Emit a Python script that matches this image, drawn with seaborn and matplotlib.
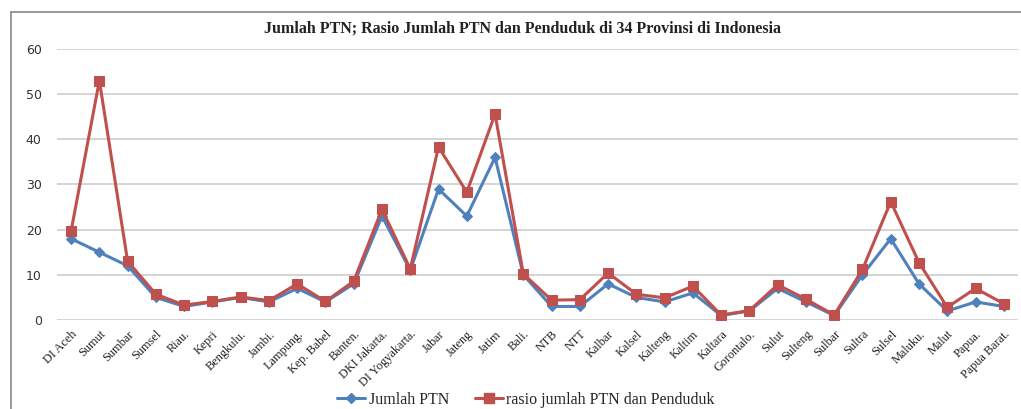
import pandas as pd
import matplotlib
matplotlib.use("Agg")
import matplotlib.pyplot as plt
import seaborn as sns
from matplotlib.lines import Line2D


provinsi = ["DI Aceh", "Sumut", "Sumbar", "Sumsel", "Riau.", "Kepri", "Bengkulu.",
            "Jambi.", "Lampung.", "Kep. Babel", "Banten.", "DKI Jakarta.",
            "DI Yogyakarta.", "Jabar", "Jateng", "Jatim", "Bali.", "NTB", "NTT",
            "Kalbar", "Kalsel", "Kalteng", "Kaltim", "Kaltara", "Gorontalo.",
            "Sulut", "Sulteng", "Sulbar", "Sultra", "Sulsel", "Maluku.", "Malut",
            "Papua.", "Papua Barat."]
jumlah_ptn = [18, 15, 12, 5, 3, 4, 5, 4, 7, 4, 8, 23, 11, 29, 23, 36, 10, 3, 3,
              8, 5, 4, 6, 1, 2, 7, 4, 1, 10, 18, 8, 2, 4, 3]
rasio_ptn = [19.7, 53, 13, 5.7, 3.3, 4.1, 5.1, 4.3, 8, 4.1, 8.6, 24.5, 11.3, 38.3,
             28.3, 45.6, 10.2, 4.4, 4.5, 10.4, 5.7, 4.9, 7.5, 1.1, 2.1, 7.8, 4.6,
             1.1, 11.2, 26.2, 12.7, 2.8, 7.0, 3.6]
yticks = [0, 10, 20, 30, 40, 50, 60]

df = pd.DataFrame({"provinsi": provinsi, "jumlah": jumlah_ptn, "rasio": rasio_ptn})

blue = "#4F81BD"
red = "#C0504D"

sns.set_style("white")
plt.rcParams["font.family"] = ["DejaVu Sans"]

fig = plt.figure(figsize=(10.21, 4.09), dpi=100)
ax = fig.add_axes([0.0558, 0.2176, 0.9412, 0.6626])

sns.lineplot(data=df, x="provinsi", y="jumlah", ax=ax, sort=False, color=blue,
             lw=2.2, marker="D", markersize=5, markeredgecolor=blue)
sns.lineplot(data=df, x="provinsi", y="rasio", ax=ax, sort=False, color=red,
             lw=2.2, marker="s", markersize=7, markeredgecolor=red)

ax.set_xlim(-0.5, len(provinsi) - 0.5)
ax.set_ylim(0, 60)
ax.set_yticks(yticks)
ax.set_yticklabels([str(t) for t in yticks], fontsize=9, color="#333333")
ax.set_xticks(range(len(provinsi)))
ax.set_xticklabels(provinsi, rotation=45, ha="right", rotation_mode="anchor",
                   fontsize=8.8, family="Liberation Serif", color="#222222")
ax.tick_params(axis="both", length=0, pad=6)
ax.tick_params(axis="y", pad=11)
ax.grid(axis="y", color="#d4d4d4", lw=1.4)
ax.set_axisbelow(True)
for s in ax.spines.values():
    s.set_visible(False)
ax.set_xlabel("")
ax.set_ylabel("")

fig.text(0.512, 0.93, "Jumlah PTN; Rasio Jumlah PTN dan Penduduk di 34 Provinsi di Indonesia",
         ha="center", va="center", fontsize=11.5, fontweight="bold",
         family="Liberation Serif", color="#222222")

# outer chart frame
fig.add_artist(Line2D([11 / 1021, 11 / 1021], [0, 1 - 12 / 409], color="#888888", lw=1.2))
fig.add_artist(Line2D([11 / 1021, 1], [1 - 12 / 409, 1 - 12 / 409], color="#888888", lw=1.2))

handles = [Line2D([], [], color=blue, lw=2.2, marker="D", markersize=5),
           Line2D([], [], color=red, lw=2.2, marker="s", markersize=7)]
fig.legend(handles, ["Jumlah PTN", "rasio jumlah PTN dan Penduduk"],
           loc="center", bbox_to_anchor=(0.515, 0.022), ncol=2, frameon=False,
           prop={"family": "Liberation Serif", "size": 11.5}, handlelength=1.8,
           columnspacing=1.6, handletextpad=0.2)

fig.savefig("out.png", dpi=100)
